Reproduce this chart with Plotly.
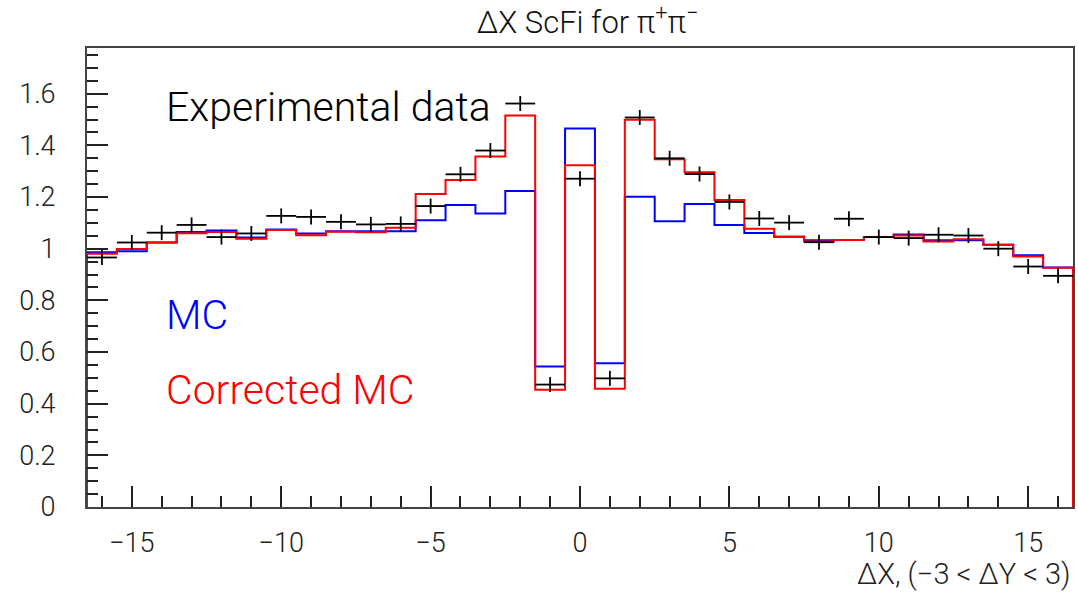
import numpy as np
import plotly.graph_objects as go

# ---- data (bin centres, width 1) ----
bin_centers = list(range(-16, 17))
data_vals = [0.966, 1.024, 1.062, 1.092, 1.045, 1.059, 1.127, 1.123, 1.104, 1.094, 1.096,
             1.165, 1.288, 1.380, 1.562, 0.474, 1.271, 0.498, 1.508, 1.350, 1.289, 1.181,
             1.117, 1.101, 1.025, 1.116, 1.045, 1.041, 1.054, 1.051, 1.000, 0.931, 0.895]
data_err = 0.029
mc_vals = [0.986, 0.990, 1.024, 1.065, 1.070, 1.043, 1.074, 1.059, 1.068, 1.068, 1.068,
           1.110, 1.169, 1.136, 1.223, 0.544, 1.465, 0.557, 1.201, 1.106, 1.173, 1.092,
           1.061, 1.046, 1.033, 1.034, 1.045, 1.055, 1.033, 1.033, 1.015, 0.975, 0.927]
corr_vals = [0.980, 0.999, 1.024, 1.060, 1.065, 1.039, 1.072, 1.052, 1.066, 1.064, 1.081,
             1.212, 1.266, 1.357, 1.516, 0.454, 1.323, 0.458, 1.499, 1.346, 1.296, 1.189,
             1.077, 1.046, 1.028, 1.034, 1.045, 1.051, 1.028, 1.037, 1.015, 0.970, 0.926]
bin_width = 1.0

x_ticks = [-15, -10, -5, 0, 5, 10, 15]
y_ticks = [0, 0.2, 0.4, 0.6, 0.8, 1.0, 1.2, 1.4, 1.6]


def step_outline(centers, vals, w):
    c = np.asarray(centers, dtype=float)
    v = np.asarray(vals, dtype=float)
    edges = np.concatenate([c - w / 2, [c[-1] + w / 2]])
    xs = [edges[0]]
    ys = [0.0]
    for i in range(len(v)):
        xs += [edges[i], edges[i + 1]]
        ys += [v[i], v[i]]
    xs.append(edges[-1])
    ys.append(0.0)
    return xs, ys


FONT = "Roboto"

fig = go.Figure()
bx, by = step_outline(bin_centers, mc_vals, bin_width)
fig.add_trace(go.Scatter(x=bx, y=by, mode="lines", line=dict(color="#0000ff", width=2),
                         hoverinfo="skip", showlegend=False))
rx, ry = step_outline(bin_centers, corr_vals, bin_width)
fig.add_trace(go.Scatter(x=rx, y=ry, mode="lines", line=dict(color="#ff0000", width=2),
                         hoverinfo="skip", showlegend=False))
fig.add_trace(go.Scatter(
    x=bin_centers, y=data_vals, mode="markers",
    marker=dict(size=1, color="black"),
    error_x=dict(type="constant", value=bin_width / 2, width=0, thickness=1.8, color="black"),
    error_y=dict(type="constant", value=data_err, width=0, thickness=1.8, color="black"),
    showlegend=False))

axis_common = dict(showgrid=False, zeroline=False, showline=True, linecolor="#444",
                   linewidth=2, mirror=True, ticks="inside", tickcolor="#222",
                   tickwidth=2, ticklen=21,
                   tickfont=dict(family=FONT, size=27, color="#222", weight=300))

fig.update_xaxes(range=[-16.5, 16.5], tickvals=x_ticks, ticklabelstandoff=11,
                 minor=dict(dtick=1, ticks="inside", ticklen=11, tickwidth=2, tickcolor="#222"),
                 **axis_common)
fig.update_yaxes(range=[0, 1.777], tickvals=y_ticks, ticklabelstandoff=24,
                 minor=dict(dtick=0.05, ticks="inside", ticklen=11, tickwidth=2, tickcolor="#222"),
                 **axis_common)

fig.update_layout(
    width=1078, height=592,
    margin=dict(l=87, r=3, t=48, b=85),
    paper_bgcolor="white", plot_bgcolor="white",
    title=dict(text="ΔX ScFi for π<sup>+</sup>π<sup>−</sup>", x=0.545, xanchor="center",
               y=0.962, yanchor="middle",
               font=dict(family=FONT, size=31, color="#111", weight=300)),
    annotations=[
        dict(text="ΔX, (−3 < ΔY < 3)", xref="paper", yref="paper", x=1.0, y=-0.147,
             xanchor="right", yanchor="middle", showarrow=False,
             font=dict(family=FONT, size=29, color="#222", weight=300)),
        dict(text="Experimental data", xref="paper", yref="paper", x=0.078, y=0.872,
             xanchor="left", yanchor="middle", showarrow=False,
             font=dict(family=FONT, size=41, color="black", weight=300)),
        dict(text="MC", xref="paper", yref="paper", x=0.078, y=0.418,
             xanchor="left", yanchor="middle", showarrow=False,
             font=dict(family=FONT, size=41, color="#0000ff", weight=300)),
        dict(text="Corrected MC", xref="paper", yref="paper", x=0.078, y=0.254,
             xanchor="left", yanchor="middle", showarrow=False,
             font=dict(family=FONT, size=41, color="#ff0000", weight=300)),
    ],
)

fig.write_html("out.html")
